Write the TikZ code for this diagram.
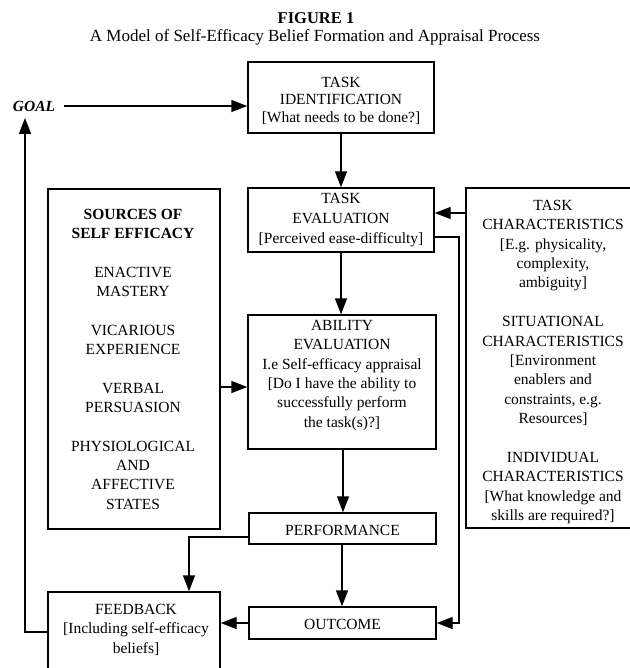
\documentclass[tikz,border=0pt]{standalone}
\usepackage{fontspec}
\setmainfont{Liberation Serif}
\usetikzlibrary{arrows.meta}
\newcommand{\tstrut}{\rule{0pt}{13.5pt}}
\begin{document}
\begin{tikzpicture}[x=1pt,y=-1pt]
\tikzset{
  bx/.style={draw, line width=1.4pt, inner sep=0pt, rectangle},
  txt/.style={font=\fontsize{15.5}{19.4}\selectfont, align=center, inner sep=0pt, anchor=north},
  arr/.style={line width=1.4pt, -{Triangle[length=16pt,width=12pt]}},
}
\useasboundingbox (0,0) rectangle (629,668);

% titles
\node[txt, font=\fontsize{16.5}{19}\selectfont\bfseries] (title) at (316,9.9) {\tstrut FIGURE 1};
\node[txt, font=\fontsize{17}{19}\selectfont] (subtitle) at (315,27.4) {\tstrut A Model of Self-Efficacy Belief Formation and Appraisal Process};

% boxes
\node[bx, minimum width=186pt, minimum height=71pt] (tid) at (341,97.5) {};
\node[bx, minimum width=186pt, minimum height=64pt] (tev) at (341,220) {};
\node[bx, minimum width=188pt, minimum height=134pt] (abl) at (342,382) {};
\node[bx, minimum width=187pt, minimum height=31pt] (perf) at (342.5,528.5) {};
\node[bx, minimum width=187pt, minimum height=32pt] (outc) at (342.5,623) {};
\node[bx, minimum width=172pt, minimum height=340pt] (src) at (134,359) {};
\node[bx, minimum width=194pt, minimum height=340pt] (tch) at (563,358) {};
\node[bx, minimum width=172pt, minimum height=108pt] (fb) at (134,646) {};

% texts
\node[txt, font=\fontsize{15.5}{17.5}\selectfont] (tidt) at (341,73.6)
  {\tstrut TASK\\IDENTIFICATION\\{[}What needs to be done?{]}};
\node[txt, font=\fontsize{15.5}{20}\selectfont] (tevt) at (341,189.6)
  {\tstrut TASK\\EVALUATION\\{[}Perceived ease-difficulty{]}};
\node[txt] (ablt) at (342,316.6)
  {\tstrut ABILITY\\EVALUATION\\I.e Self-efficacy appraisal\\{[}Do I have the ability to\\successfully perform\\the task(s)?{]}};
\node[txt, font=\fontsize{15.5}{19.33}\selectfont] (srct) at (133,205.6)
  {\tstrut\textbf{SOURCES OF}\\\textbf{SELF EFFICACY}\\[19.33pt]
   ENACTIVE\\MASTERY\\[19.33pt]
   VICARIOUS\\EXPERIENCE\\[19.33pt]
   VERBAL\\PERSUASION\\[19.33pt]
   PHYSIOLOGICAL\\AND\\AFFECTIVE\\STATES};
\node[txt] (tcht) at (553,196.6)
  {\tstrut TASK\\CHARACTERISTICS\\{[}E.g. physicality,\\complexity,\\ambiguity{]}\\[19.4pt]
   SITUATIONAL\\CHARACTERISTICS\\{[}Environment\\enablers and\\constraints, e.g.\\Resources{]}\\[19.4pt]
   INDIVIDUAL\\CHARACTERISTICS\\{[}What knowledge and\\skills are required?{]}};
\node[txt] (perft) at (342.5,521.6) {\tstrut PERFORMANCE};
\node[txt] (outct) at (342.5,615.6) {\tstrut OUTCOME};
\node[txt, font=\fontsize{15.5}{19.5}\selectfont] (fbt) at (136,600.6)
  {\tstrut FEEDBACK\\{[}Including self-efficacy\\beliefs{]}};
\node[txt, font=\fontsize{15.5}{19}\selectfont\bfseries\itshape] (goal) at (34,97.6) {\tstrut GOAL};

% connectors
\coordinate (loopend) at (25,118);
\draw[arr, shorten <=9pt] (goal.east |- 0,106) -- (tid.west |- 0,106);
\draw[arr] (fb.west |- 0,632) -| (loopend);
\draw[arr] (tid.south) -- (tev.north);
\draw[arr] (tev.south) -- (tev.south |- abl.north);
\draw[arr] (tch.west |- 0,213) -- (tev.east |- 0,213);
\draw[arr] (tev.east |- 0,237) -- (459,237) |- (outc.east);
\draw[arr] (src.east |- 0,387) -- (abl.west |- 0,387);
\draw[arr] (abl.south -| 343,0) -- (perf.north -| 343,0);
\draw[arr] (perf.south -| 342,0) -- (outc.north -| 342,0);
\draw[arr] (perf.west |- 0,537) -| ([xshift=55pt]fb.north);
\draw[arr] (outc.west) -- (outc.west -| fb.east);
\end{tikzpicture}
\end{document}
